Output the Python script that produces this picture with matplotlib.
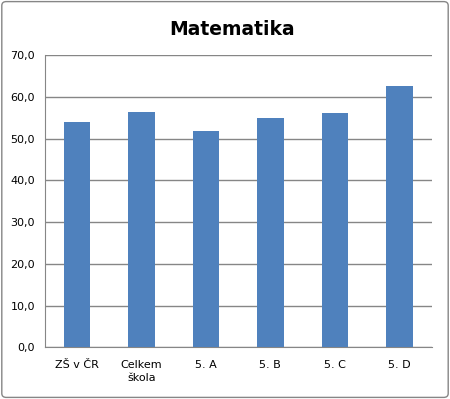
import matplotlib.pyplot as plt
from matplotlib.patches import FancyBboxPatch

# data
kategorie = ['ZŠ v ČR', 'Celkem\nškola', '5. A', '5. B', '5. C', '5. D']
hodnoty = [54.0, 56.4, 51.8, 54.9, 56.1, 62.6]
y_ticks = [0, 10, 20, 30, 40, 50, 60, 70]

fig = plt.figure(figsize=(4.5, 3.99), dpi=100)
ax = fig.add_axes([0.0993, 0.1296, 0.8597, 0.7324])

x = list(range(len(kategorie)))
ax.bar(x, hodnoty, width=0.41, color='#4F81BD', zorder=3)

ax.set_xlim(-0.5, len(kategorie) - 0.5)
ax.set_ylim(0, 70)
ax.set_yticks(y_ticks)
ax.set_yticklabels([f'{v:.1f}'.replace('.', ',') for v in y_ticks], fontsize=8)
ax.set_xticks(x)
ax.set_xticklabels(kategorie, fontsize=8, linespacing=1.35)
ax.tick_params(axis='y', length=0, pad=7)
ax.tick_params(axis='x', length=0, pad=9)

ax.grid(axis='y', color='#868686', linewidth=1, zorder=0)
for s in ['top', 'right']:
    ax.spines[s].set_visible(False)
ax.spines['left'].set_color('#868686')
ax.spines['bottom'].set_color('#868686')

fig.text(0.515, 0.925, 'Matematika', ha='center', va='center',
         fontsize=13.5, fontweight='bold')

fig.patches.append(FancyBboxPatch((0.004, 0.004), 0.992, 0.992,
                                  boxstyle='round,pad=0,rounding_size=0.01',
                                  transform=fig.transFigure,
                                  fill=False, edgecolor='#868686', linewidth=1))

fig.savefig('out.png', dpi=100)
